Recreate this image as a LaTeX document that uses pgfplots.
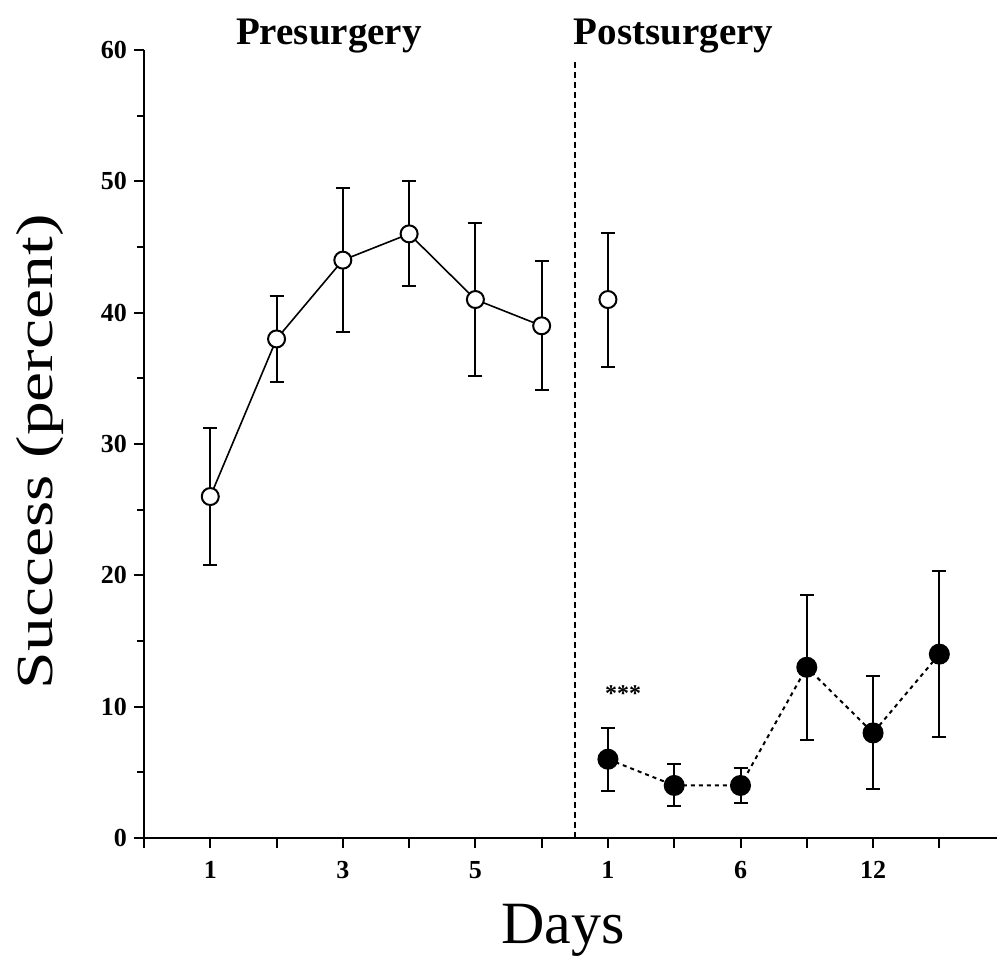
\documentclass[border=0pt]{standalone}
\usepackage{pgfplots}
\pgfplotsset{compat=1.18}
\usepackage{fontspec}
\setmainfont{Liberation Serif}
\begin{document}
\begin{tikzpicture}
\begin{axis}[
  scale only axis,
  width=426.5pt, height=394pt,
  xmin=0, xmax=12.87, ymin=0, ymax=60,
  axis lines=left,
  axis line style={-, line width=1pt},
  clip=false,
  /pgf/number format/assume math mode=true,
  xtick={0,1,2,3,4,5,6,7,8,9,10,11,12},
  xticklabels={,1,,3,,5,,1,,6,,12,},
  ytick={0,10,20,30,40,50,60},
  minor ytick={5,15,25,35,45,55},
  tick align=outside,
  major tick length=5pt,
  minor tick length=3.5pt,
  tick style={line width=1pt, black},
  ticklabel style={font=\fontsize{13}{15}\selectfont\bfseries},
  xticklabel style={yshift=-3pt},
  xlabel={Days},
  xlabel style={font=\fontsize{30}{34}\selectfont, at={(axis description cs:0.491,-0.117)}, anchor=center},
  ylabel={\scalebox{1.3}[1]{Success (percent)}},
  ylabel style={font=\fontsize{26}{30}\selectfont, at={(axis description cs:-0.122,0.49)}, anchor=center},
]
% presurgery error bars
\addplot[draw=none, mark=none, forget plot,
  error bars/.cd, y dir=both, y explicit,
  error bar style={line width=1pt, black},
  error mark options={rotate=90, mark size=3.5pt, line width=1pt, black}]
  coordinates {
  (1,26) +- (0,5.2)
  (2,38) +- (0,3.3)
  (3,44) +- (0,5.5)
  (4,46) +- (0,4.0)
  (5,41) +- (0,5.8)
  (6,39) +- (0,4.9)
  (7,41) +- (0,5.1)
};
% postsurgery error bars
\addplot[draw=none, mark=none, forget plot,
  error bars/.cd, y dir=both, y explicit,
  error bar style={line width=1pt, black},
  error mark options={rotate=90, mark size=3.5pt, line width=1pt, black}]
  coordinates {
  (7,6) +- (0,2.4)
  (8,4) +- (0,1.6)
  (9,4) +- (0,1.3)
  (10,13) +- (0,5.5)
  (11,8) +- (0,4.3)
  (12,14) +- (0,6.3)
};
% divider
\addplot[black, line width=1pt, dash pattern=on 3pt off 2pt, mark=none] coordinates {(6.5,0) (6.5,59.1)};
% presurgery line
\addplot[black, line width=0.8pt, mark=*, mark size=4.25pt,
  mark options={solid, fill=white, draw=black, line width=1pt}]
  coordinates {(1,26) (2,38) (3,44) (4,46) (5,41) (6,39)};
% postsurgery open
\addplot[only marks, mark=*, mark size=4.25pt,
  mark options={fill=white, draw=black, line width=1pt}]
  coordinates {(7,41)};
% postsurgery filled
\addplot[black, line width=1pt, dash pattern=on 2pt off 2pt, mark=*, mark size=4.75pt,
  mark options={solid, fill=black, draw=black}]
  coordinates {(7,6) (8,4) (9,4) (10,13) (11,8) (12,14)};
\node[anchor=base, font=\fontsize{19.5}{22}\selectfont\bfseries] at (axis cs:2.79,60.4) {Presurgery};
\node[anchor=base, font=\fontsize{19.5}{22}\selectfont\bfseries] at (axis cs:7.99,60.4) {Postsurgery};
\node[anchor=base, font=\fontsize{12}{14}\selectfont\bfseries] at (axis cs:7.23,10.4) {***};
\end{axis}
\pgfresetboundingbox
\path[use as bounding box] (-72pt,-66pt) rectangle (426.5pt,419pt);
\end{tikzpicture}
\end{document}
